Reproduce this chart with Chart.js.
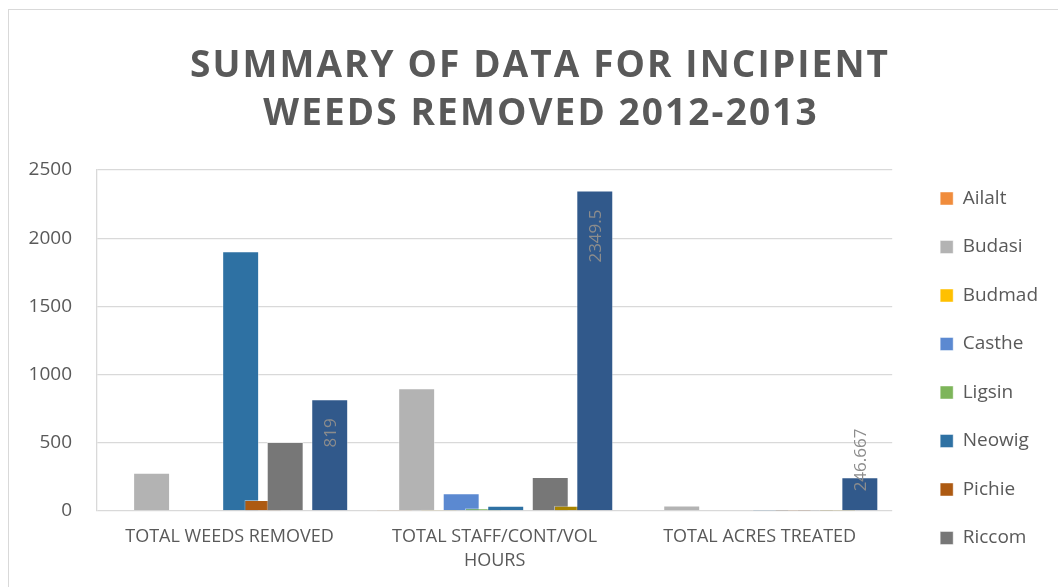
<!DOCTYPE html>
<html>
<head>
<meta charset="utf-8">
<script src="https://cdn.jsdelivr.net/npm/chart.js@4.4.1/dist/chart.umd.min.js"></script>
<style>
  html, body { margin: 0; padding: 0; background: #fff; overflow: hidden; }
  #wrap { position: relative; width: 1058px; height: 587px; }
  #frame { position: absolute; left: 8px; top: 9px; right: -10px; bottom: -10px;
           border-left: 1px solid #d9d9d9; border-top: 1px solid #d9d9d9; pointer-events: none; }
</style>
</head>
<body>
<div id="wrap">
  <canvas id="myChart" width="1058" height="587"></canvas>
  <div id="frame"></div>
</div>
<script>
// data
const titleLines = ['SUMMARY OF DATA FOR INCIPIENT', 'WEEDS REMOVED 2012-2013']
const categories = ['TOTAL WEEDS REMOVED', ['TOTAL STAFF/CONT/VOL', 'HOURS'], 'TOTAL ACRES TREATED']
const seriesNames = ['Ailalt', 'Budasi', 'Budmad', 'Casthe', 'Ligsin', 'Neowig', 'Pichie', 'Riccom', 'Series9', 'Series10']

const ailalt = [0, 3, 0]
const budasi = [280, 900, 40]
const budmad = [0, 10, 0]
const casthe = [0, 130, 0]
const ligsin = [0, 20, 0]
const neowig = [1905, 38, 1.5]
const pichie = [80, 0, 1]
const riccom = [505, 250, 1.5]
const series9 = [0, 38, 1]
const series10 = [819, 2349.5, 246.667]

const yTicks = [0, 500, 1000, 1500, 2000, 2500]

const seriesValues = [ailalt, budasi, budmad, casthe, ligsin, neowig, pichie, riccom, series9, series10]
const seriesColors = ['#F08C3C', '#B3B3B3', '#FFC000', '#5B89D1', '#7DB55A', '#2E71A3', '#AD5A12', '#777777', '#A88400', '#31598B']

// excel draws later series on top, chart.js the other way round
const barOrder = {
    id: 'barOrder',
    beforeDatasetsDraw(chart) {
        const metas = chart.getSortedVisibleDatasetMetas().slice().sort((a, b) => a.index - b.index)
        metas.forEach(m => m.controller.draw())

        // value labels on the last series, rotated like in excel
        const ctx = chart.ctx
        const meta = chart.getDatasetMeta(seriesValues.length - 1)
        ctx.save()
        ctx.font = '17px "Open Sans"'
        ctx.fillStyle = '#8c8c8c'
        ctx.textAlign = 'center'
        ctx.textBaseline = 'middle'
        meta.data.forEach((bar, i) => {
            const txt = String(series10[i])
            const len = ctx.measureText(txt).width
            let cy
            if (bar.base - bar.y >= len + 38) {
                cy = bar.y + 19 + len / 2
            } else {
                cy = bar.base - 19 - len / 2
            }
            ctx.save()
            ctx.translate(bar.x, cy)
            ctx.rotate(-Math.PI / 2)
            ctx.fillText(txt, 0, 1)
            ctx.restore()
        })
        ctx.restore()
        return false
    }
}

// two line title with letter spacing
const bigTitle = {
    id: 'bigTitle',
    afterDraw(chart) {
        const ctx = chart.ctx
        ctx.save()
        ctx.font = 'bold 37px "Open Sans"'
        ctx.fillStyle = '#595959'
        ctx.textAlign = 'center'
        ctx.textBaseline = 'alphabetic'
        if ('letterSpacing' in ctx) ctx.letterSpacing = '2.1px'
        ctx.fillText(titleLines[0], 540, 77)
        ctx.fillText(titleLines[1], 541, 125)
        ctx.restore()
    }
}

const datasets = seriesNames.map((name, i) => ({
    label: name,
    data: seriesValues[i],
    backgroundColor: seriesColors[i],
    borderColor: 'rgba(255,255,255,0.45)',
    borderWidth: 1,
    categoryPercentage: 0.84,
    barPercentage: 1.66
}))

const config = {
    type: 'bar',
    data: { labels: categories, datasets },
    options: {
        responsive: false,
        animation: false,
        layout: { padding: { top: 159.5, right: 10, bottom: 0, left: 0 } },
        scales: {
            x: {
                grid: { display: false, drawTicks: false },
                border: { display: false },
                ticks: {
                    color: '#595959',
                    font: { family: 'Open Sans', size: 18, lineHeight: 1.33 },
                    padding: 14,
                    maxRotation: 0
                },
                afterFit(s) { s.height = 76 }
            },
            y: {
                min: 0,
                max: 2500,
                afterBuildTicks(s) { s.ticks = yTicks.map(v => ({ value: v })) },
                grid: { color: '#d9d9d9', lineWidth: 1.3, drawTicks: false },
                border: { display: true, color: '#d9d9d9', width: 1.3 },
                ticks: {
                    color: '#595959',
                    font: { family: 'Open Sans', size: 19 },
                    padding: 25,
                    callback: v => String(v)
                },
                afterFit(s) { s.width = 97 }
            },
            topGap: {
                type: 'category',
                position: 'top',
                grid: { display: false },
                border: { display: false },
                ticks: { display: false },
                afterFit(s) { s.height = 10.5 }
            },
            rightGap: {
                type: 'linear',
                position: 'right',
                grid: { display: false },
                border: { display: false },
                ticks: { display: false },
                afterFit(s) { s.width = 18.5 }
            }
        },
        plugins: {
            title: { display: false },
            tooltip: { enabled: false },
            legend: {
                position: 'right',
                align: 'start',
                labels: {
                    boxWidth: 13,
                    boxHeight: 13,
                    padding: 29.5,
                    color: '#595959',
                    font: { family: 'Open Sans', size: 19 },
                    // excel legend only had room for the first eight
                    filter: item => item.datasetIndex < 8
                }
            }
        }
    },
    plugins: [barOrder, bigTitle]
}

let myChart = new Chart(document.getElementById('myChart'), config)
</script>
</body>
</html>
